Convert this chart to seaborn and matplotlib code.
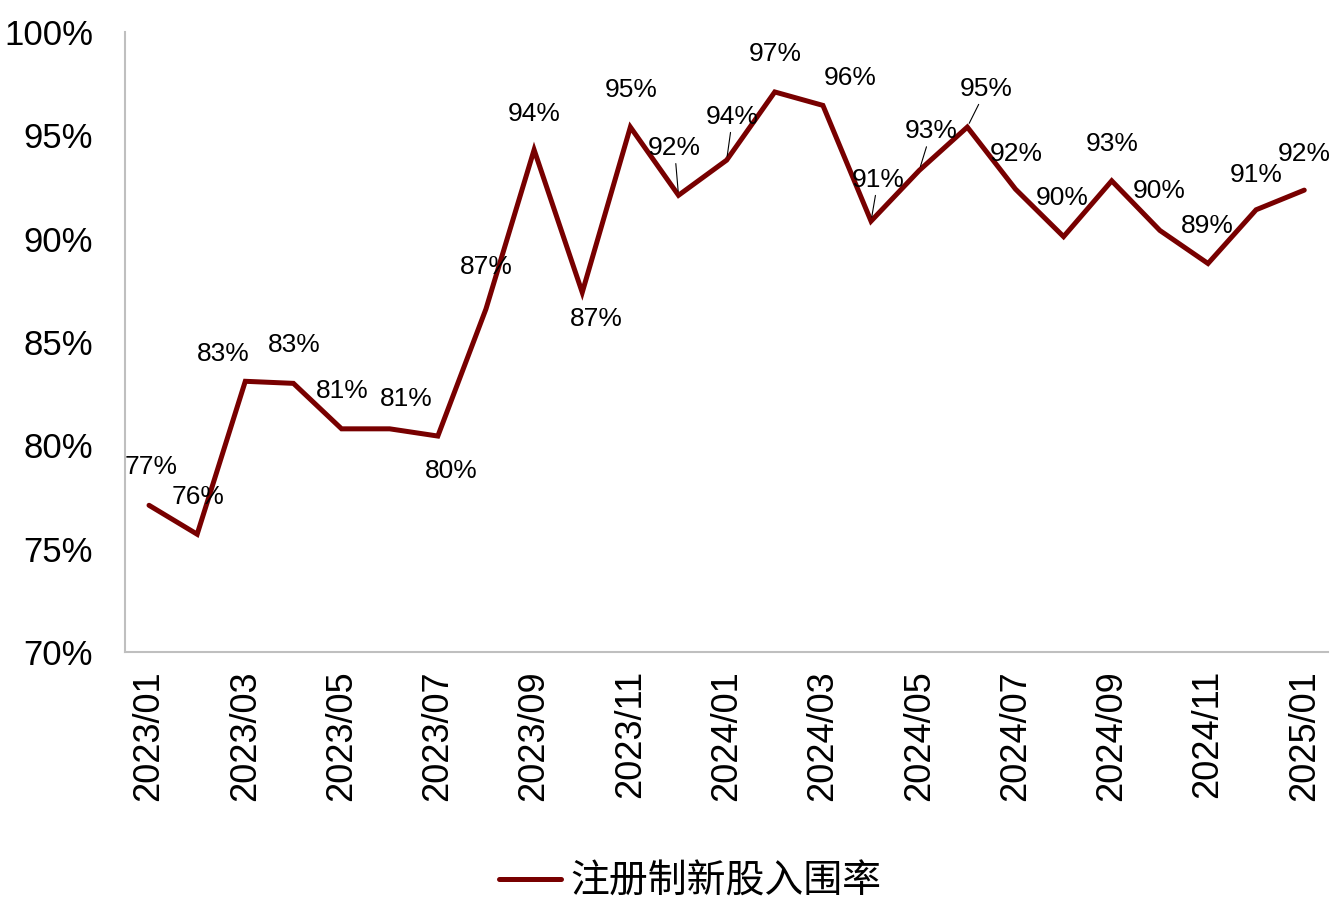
import numpy as np
import pandas as pd
import matplotlib.pyplot as plt
import seaborn as sns

# Monthly data
months = ["2023/01", "2023/02", "2023/03", "2023/04", "2023/05", "2023/06",
          "2023/07", "2023/08", "2023/09", "2023/10", "2023/11", "2023/12",
          "2024/01", "2024/02", "2024/03", "2024/04", "2024/05", "2024/06",
          "2024/07", "2024/08", "2024/09", "2024/10", "2024/11", "2024/12",
          "2025/01"]
rates = [77.1, 75.7, 83.1, 83.0, 80.8, 80.8, 80.45, 86.6, 94.3, 87.4,
         95.4, 92.1, 93.8, 97.1, 96.45, 90.85, 93.3, 95.4, 92.4, 90.1,
         92.8, 90.4, 88.8, 91.4, 92.35]
series_name = "注册制新股入围率"

# Data label placement (pixel offsets from the point, +y is up)
label_offsets = [(2, 38), (1, 37), (-22, 27), (1, 38), (1, 38), (17, 30),
                 (13, -35), (0, 42), (0, 36), (14, -27), (1, 37), (-4, 47),
                 (6, 43), (0, 38), (27, 27), (7, 41), (12, 39), (19, 38),
                 (1, 35), (-1, 39), (0, 37), (-1, 39), (-1, 37), (0, 35),
                 (0, 36)]
leader_lines = {11, 12, 15, 16, 17}

line_color = "#780000"
axis_color = "#BFBFBF"

sns.set_style("white")
plt.rcParams["font.family"] = ["Liberation Sans", "Noto Sans CJK SC"]
plt.rcParams["text.color"] = "black"

df = pd.DataFrame({"month": months, "rate": rates})
df["pos"] = np.arange(len(df))
n = len(df)

fig, ax = plt.subplots(figsize=(13.35, 9.15), dpi=100)
fig.subplots_adjust(left=0.0936, right=0.995, top=0.965, bottom=0.2874)

sns.lineplot(data=df, x="pos", y="rate", color=line_color, linewidth=3.6, ax=ax)
ax.lines[0].set_solid_joinstyle("miter")

# axes
ax.set_xlim(-0.5, n - 0.5)
ax.set_ylim(70, 100)
ax.set_xticks(df["pos"][::2])
ax.set_xticklabels(df["month"][::2], rotation=90, fontsize=26)
ax.set_xticks(np.arange(-0.5, n - 1, 2), minor=True)
ax.tick_params(axis="x", which="major", length=0, pad=13, labelcolor="black")
ax.tick_params(axis="x", which="minor", length=7.5, width=1.5, color=axis_color, direction="out")
yticks = np.arange(70, 101, 5)
ax.set_yticks(yticks)
ax.set_yticklabels([f"{t}%" for t in yticks], fontsize=25)
ax.tick_params(axis="y", length=0, pad=23, labelcolor="black")
ax.set_xlabel("")
ax.set_ylabel("")
ax.grid(False)
sns.despine(ax=ax)
for side in ["left", "bottom"]:
    ax.spines[side].set_color(axis_color)
    ax.spines[side].set_linewidth(1.5)

# data labels
for i, row in df.iterrows():
    arrow = dict(arrowstyle="-", color="black", lw=0.8, shrinkA=0, shrinkB=3) if i in leader_lines else None
    ax.annotate(f"{row['rate']:.0f}%", xy=(row["pos"], row["rate"]),
                xytext=label_offsets[i], textcoords="offset pixels",
                ha="center", va="center", fontsize=19, color="black", arrowprops=arrow)

fig.legend([ax.lines[0]], [series_name], loc="center", bbox_to_anchor=(0.517, 0.036),
           frameon=False, fontsize=28, handlelength=1.6, handletextpad=0.25,
           labelcolor="black")

fig.savefig("out.png", dpi=100)
plt.close(fig)
